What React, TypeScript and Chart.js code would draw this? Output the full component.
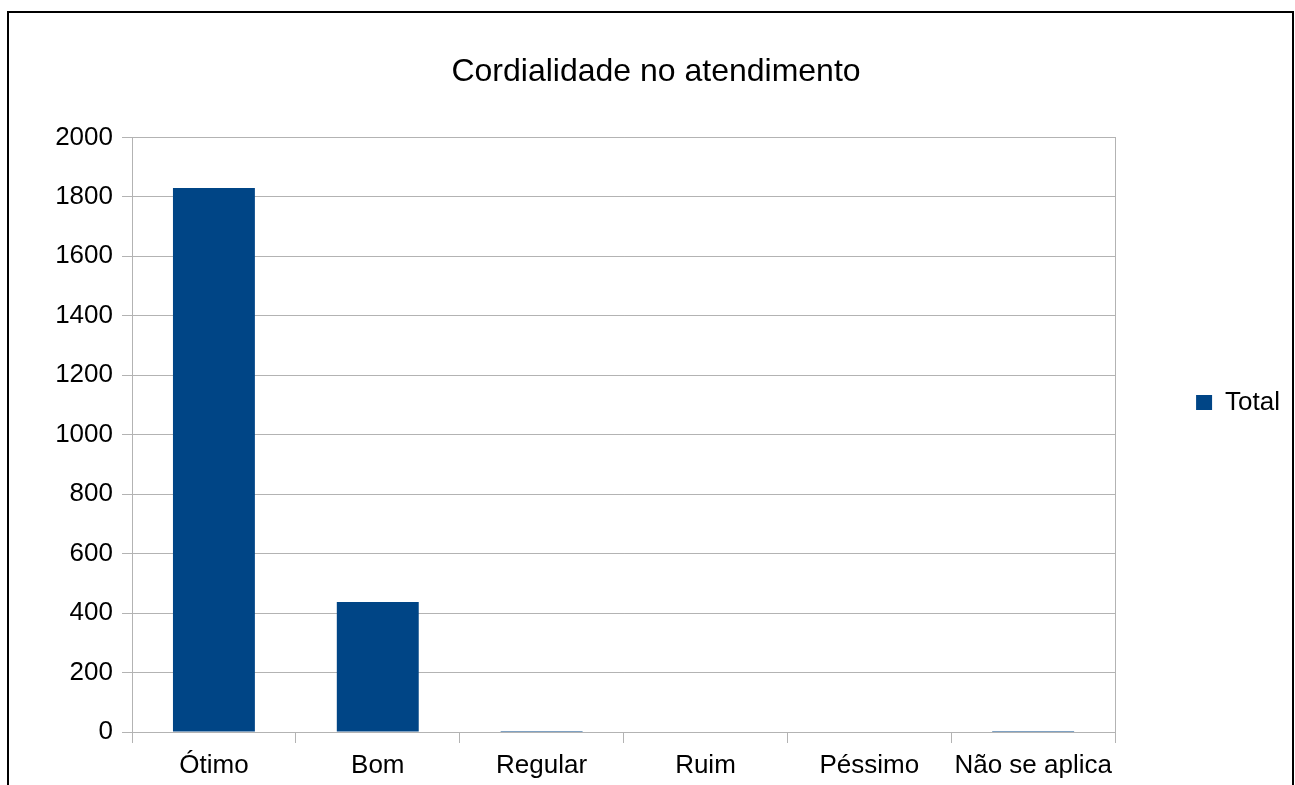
import React, { useEffect, useRef } from "react";
import { Chart, registerables } from "chart.js";

Chart.register(...registerables);

const categories = ["Ótimo", "Bom", "Regular", "Ruim", "Péssimo", "Não se aplica"];
const totalValues = [1830, 437, 3, 0, 0, 3];
const seriesLabel = "Total";
const chartTitle = "Cordialidade no atendimento";
const yMin = 0;
const yMax = 2000;
const yStep = 200;

const FONT = "'Liberation Sans', Arial, sans-serif";
const GRID = "#b3b3b3";

export default function App() {
  const ref = useRef<HTMLCanvasElement | null>(null);

  useEffect(() => {
    if (!ref.current) return;
    const chart = new Chart(ref.current, {
      type: "bar",
      data: {
        labels: categories,
        datasets: [
          {
            label: seriesLabel,
            data: totalValues,
            backgroundColor: "#004586",
            borderWidth: 0,
            barPercentage: 0.5,
            categoryPercentage: 1.0,
            yAxisID: "y",
          },
        ],
      },
      options: {
        responsive: false,
        animation: false,
        layout: { padding: { left: 22, top: 20, right: 5, bottom: 0 } },
        plugins: {
          tooltip: { enabled: false },
          title: {
            display: true,
            text: chartTitle,
            color: "#000",
            font: { family: FONT, size: 32, weight: "normal" },
            padding: { top: 33, bottom: 46 },
          },
          legend: {
            position: "right",
            labels: {
              color: "#000",
              font: { family: FONT, size: 26 },
              boxWidth: 16,
              boxHeight: 15,
              padding: 20,
            },
          },
        },
        scales: {
          x: {
            grid: {
              offset: true,
              drawOnChartArea: false,
              drawTicks: true,
              tickLength: 11,
              color: GRID,
            },
            border: { color: GRID },
            ticks: {
              color: "#000",
              font: { family: FONT, size: 26 },
              padding: 7,
              maxRotation: 0,
              autoSkip: false,
            },
            afterFit: (s: any) => {
              s.height = 53;
            },
          },
          y: {
            min: yMin,
            max: yMax,
            grid: { color: GRID, tickLength: 10 },
            border: { color: GRID },
            ticks: {
              stepSize: yStep,
              color: "#000",
              font: { family: FONT, size: 26 },
              padding: 9,
              callback: (v: any) => String(v),
            },
            afterFit: (s: any) => {
              s.width = 110;
            },
          },
          y2: {
            position: "right",
            display: true,
            grid: { display: false },
            border: { display: true, color: GRID },
            ticks: { display: false },
            afterFit: (s: any) => {
              s.width = 61;
            },
          },
        },
      },
    });
    return () => chart.destroy();
  }, []);

  return (
    <div
      style={{
        position: "fixed",
        left: 0,
        top: 0,
        width: 1295,
        height: 785,
        overflow: "hidden",
        background: "#fff",
      }}
    >
      <canvas ref={ref} width={1295} height={785} style={{ position: "absolute", left: 0, top: 0 }} />
      <div
        style={{
          position: "absolute",
          left: 7,
          top: 11,
          width: 1287,
          height: 900,
          border: "2px solid #000",
          boxSizing: "border-box",
          pointerEvents: "none",
        }}
      />
    </div>
  );
}
